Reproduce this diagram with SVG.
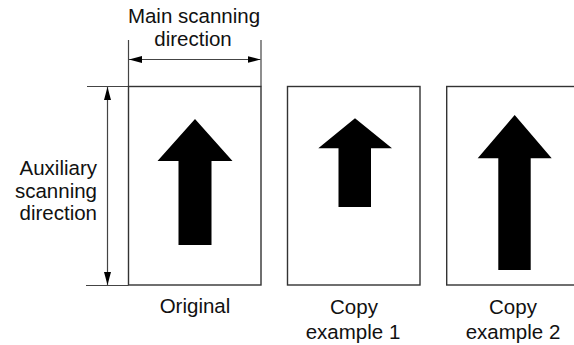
<svg xmlns="http://www.w3.org/2000/svg" width="574" height="345" viewBox="0 0 574 345">
  <style>
    .sheet { fill: #ffffff; stroke: #333333; stroke-width: 1.4; }
    .shape { fill: #000000; stroke: none; }
    .dim { fill: none; stroke: #444444; stroke-width: 1.2; }
    .ext { fill: none; stroke: #444444; stroke-width: 1.2; }
    .lbl { font-family: "Liberation Sans", Arial, Helvetica, sans-serif; font-size: 20.5px; fill: #111111; }
    .c { text-anchor: middle; }
    .r { text-anchor: end; }
  </style>
  <defs>
    <marker id="tip" markerUnits="userSpaceOnUse" viewBox="0 0 13 7" refX="13" refY="3.5"
            markerWidth="13" markerHeight="7" orient="auto-start-reverse">
      <path d="M0,0 L13,3.5 L0,7 z" fill="#000000"/>
    </marker>
  </defs>

  <rect width="574" height="345" fill="#ffffff"/>

  <!-- dimension lines -->
  <g id="connectors">
    <!-- main scanning direction -->
    <line class="ext" x1="128.5" y1="40" x2="128.5" y2="86.5"/>
    <line class="ext" x1="261" y1="40" x2="261" y2="86.5"/>
    <line class="dim" x1="129" y1="59.5" x2="260.5" y2="59.5" marker-start="url(#tip)" marker-end="url(#tip)"/>
    <!-- auxiliary scanning direction -->
    <line class="ext" x1="87" y1="86.5" x2="128.5" y2="86.5"/>
    <line class="ext" x1="86" y1="285.5" x2="128.5" y2="285.5"/>
    <line class="dim" x1="107.5" y1="87" x2="107.5" y2="285" marker-start="url(#tip)" marker-end="url(#tip)"/>
  </g>

  <g id="main-label">
    <text class="lbl c" x="194" y="22.5">Main scanning</text>
    <text class="lbl c" x="193" y="46">direction</text>
  </g>

  <g id="aux-label">
    <text class="lbl r" x="97" y="175">Auxiliary</text>
    <text class="lbl r" x="97" y="197.5">scanning</text>
    <text class="lbl r" x="97" y="220">direction</text>
  </g>

  <!-- original sheet -->
  <g id="original">
    <rect class="sheet" x="128.5" y="86.5" width="132.5" height="198.5"/>
    <polygon class="shape" points="195,119 232.5,161 211.5,161 211.5,245 178.5,245 178.5,161 157.5,161"/>
    <text class="lbl c" x="195" y="313">Original</text>
  </g>

  <!-- copy example 1: reduced in the auxiliary direction -->
  <g id="copy1">
    <rect class="sheet" x="287.5" y="86.5" width="132.5" height="198.5"/>
    <polygon class="shape" points="355,118.3 392,148.3 371,148.3 371,207 338.5,207 338.5,148.3 318.3,148.3"/>
    <text class="lbl c" x="354" y="314">Copy</text>
    <text class="lbl c" x="353" y="339">example 1</text>
  </g>

  <!-- copy example 2: enlarged in the auxiliary direction -->
  <g id="copy2">
    <rect class="sheet" x="446.7" y="86.5" width="132.5" height="198.5"/>
    <polygon class="shape" points="514.7,115 551.7,158.3 530.7,158.3 530.7,270 498.3,270 498.3,158.3 477.7,158.3"/>
    <text class="lbl c" x="513" y="314">Copy</text>
    <text class="lbl c" x="513" y="339">example 2</text>
  </g>
</svg>
